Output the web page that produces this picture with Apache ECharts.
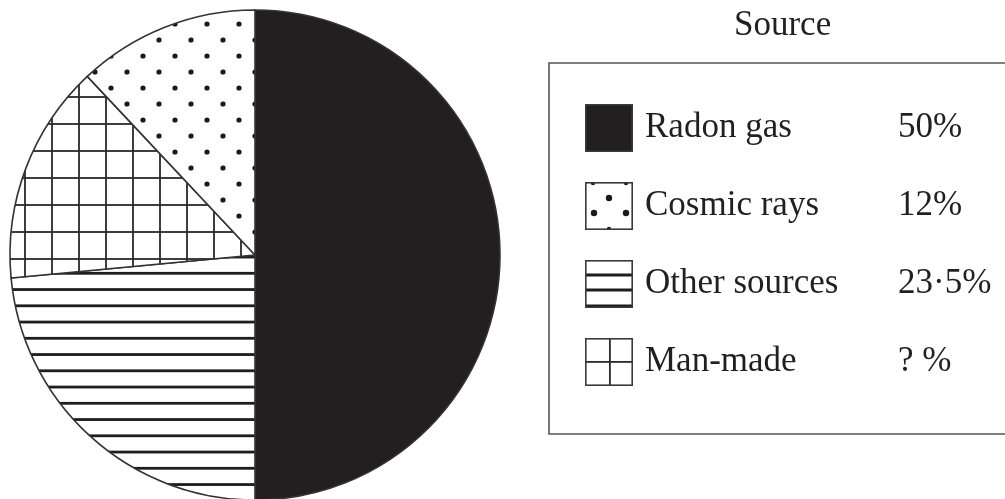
<!DOCTYPE html>
<html>
<head>
<meta charset="utf-8">
<script src="https://cdn.jsdelivr.net/npm/echarts@6/dist/echarts.min.js"></script>
<style>
  html, body {margin: 0; padding: 0; background: #fff;}
  #main {width: 1005px; height: 499px;}
</style>
</head>
<body>
<div id="main"></div>
<script>
// legend order
const sources = ['Radon gas', 'Cosmic rays', 'Other sources', 'Man-made'];
const shareLabels = ['50%', '12%', '23·5%', '? %'];
// pie order, clockwise from the top
const pieNames = ['Radon gas', 'Other sources', 'Man-made', 'Cosmic rays'];
const pieValues = [50, 23.5, 14.5, 12];

const ink = '#231f20';
const serif = '"Liberation Serif", "DejaVu Serif", serif';

function tile(w, h, draw) {
  const c = document.createElement('canvas');
  c.width = w;
  c.height = h;
  const g = c.getContext('2d');
  g.fillStyle = '#fff';
  g.fillRect(0, 0, w, h);
  draw(g);
  return c;
}
function dot(g, x, y, r) {
  g.beginPath();
  g.arc(x, y, r, 0, Math.PI * 2);
  g.fill();
}

// fill patterns for the slices
const dotsTile = tile(32, 32, g => {
  g.fillStyle = '#1a1a1a';
  [[15, 24], [31, 8], [-1, 8], [15, -8], [15, 56]].forEach(p => dot(g, p[0], p[1], 2.6));
});
const linesTile = tile(8, 65, g => {
  g.fillStyle = '#1e1e1e';
  [13.3, 29.55, 45.8, 62.05].forEach(y => g.fillRect(0, y - 1.4, 8, 2.8));
});
const gridTile = tile(27, 27, g => {
  g.fillStyle = '#2a2a2a';
  g.fillRect(24.1, 0, 1.8, 27);
  g.fillRect(0, 15.1, 27, 1.8);
});

// legend icons
function icon(draw) {
  return 'image://' + tile(48, 48, g => {
    draw(g);
    g.strokeStyle = '#3a3a3a';
    g.lineWidth = 1.6;
    g.strokeRect(0.8, 0.8, 46.4, 46.4);
  }).toDataURL();
}
const icons = {
  'Radon gas': icon(g => { g.fillStyle = ink; g.fillRect(0, 0, 48, 48); }),
  'Cosmic rays': icon(g => {
    g.fillStyle = '#1a1a1a';
    [[8, 1], [41, 1], [24, 47]].forEach(p => dot(g, p[0], p[1], 2.2));
    [[24, 16], [9, 31], [41, 31]].forEach(p => dot(g, p[0], p[1], 3.2));
  }),
  'Other sources': icon(g => {
    g.fillStyle = '#1e1e1e';
    [15, 30, 46].forEach(y => g.fillRect(0, y - 1.5, 48, 3));
  }),
  'Man-made': icon(g => {
    g.fillStyle = '#2a2a2a';
    g.fillRect(24, 0, 1.8, 48);
    g.fillRect(0, 23, 48, 1.8);
  })
};
const fills = {
  'Radon gas': ink,
  'Cosmic rays': {image: dotsTile, repeat: 'repeat'},
  'Other sources': {image: linesTile, repeat: 'repeat'},
  'Man-made': {image: gridTile, repeat: 'repeat'}
};

const myChart = echarts.init(document.getElementById('main'));
myChart.setOption({
  animation: false,
  title: {
    text: 'Source',
    left: 729,
    top: 3,
    textStyle: {fontFamily: serif, fontSize: 35, fontWeight: 'normal', color: ink}
  },
  legend: {
    orient: 'vertical',
    left: 549,
    top: 63,
    padding: [41, 60, 48, 36],
    borderColor: '#555',
    borderWidth: 1.6,
    itemWidth: 48,
    itemHeight: 48,
    itemGap: 30,
    selectedMode: false,
    data: sources.map(name => ({name: name, icon: icons[name]})),
    formatter(name) {
      const i = sources.indexOf(name);
      return '{n|' + name + '}{v|' + shareLabels[i] + '}';
    },
    textStyle: {
      rich: {
        n: {fontFamily: serif, fontSize: 35, color: ink, width: 253, padding: [0, 0, 0, 7]},
        v: {fontFamily: serif, fontSize: 35, color: ink}
      }
    }
  },
  series: [
    {
      type: 'pie',
      center: [255, 255],
      radius: 245,
      startAngle: 90,
      clockwise: true,
      label: {show: false},
      labelLine: {show: false},
      emphasis: {disabled: true},
      itemStyle: {borderColor: '#333', borderWidth: 1.6},
      data: pieNames.map((name, i) => ({
        name: name,
        value: pieValues[i],
        itemStyle: {color: fills[name]}
      }))
    }
  ]
});
</script>
</body>
</html>
